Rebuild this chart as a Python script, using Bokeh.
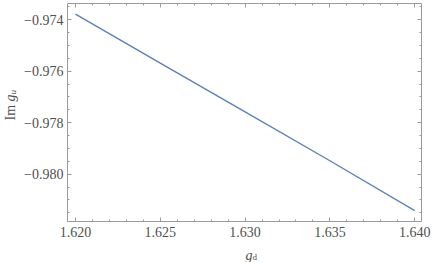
import math
from bokeh.plotting import figure
from bokeh.models import Range1d, LinearAxis, FixedTicker, CustomJSTickFormatter
from bokeh.core.properties import value
from bokeh.embed import file_html
from bokeh.resources import INLINE

# data
gd = [1.620, 1.625, 1.630, 1.635, 1.640]
im_gu = [-0.97378, -0.97569, -0.97758, -0.97948, -0.98142]

x_ticks = [1.620, 1.625, 1.630, 1.635, 1.640]
y_ticks = [-0.980, -0.978, -0.976, -0.974]
x_minor = [round(1.620 + 0.001 * i, 4) for i in range(21)]
y_minor = [round(-0.9815 + 0.0005 * i, 5) for i in range(17)]

x_lo, x_hi = 1.61953, 1.6404
y_lo, y_hi = -0.98184, -0.97337

FONT = "Liberation Serif, Times New Roman, serif"
TXT = "#505050"
FRAME = "#9a9a9a"
LINE = "#5E81B5"

p = figure(width=432, height=262, output_backend="svg", toolbar_location=None,
           x_range=Range1d(x_lo, x_hi), y_range=Range1d(y_lo, y_hi),
           min_border_left=67, min_border_right=11, min_border_top=3, min_border_bottom=41,
           x_axis_location=None, y_axis_location=None)
p.outline_line_color = None
p.xgrid.visible = False
p.ygrid.visible = False
p.background_fill_color = "white"
p.border_fill_color = "white"

fmt = CustomJSTickFormatter(code="""
return (tick < 0 ? "\\u2212" : "") + Math.abs(tick).toFixed(3);
""")

def style(ax, labels):
    ax.axis_line_color = FRAME
    ax.axis_line_width = 1
    ax.major_tick_line_color = FRAME
    ax.minor_tick_line_color = FRAME
    ax.major_tick_in = 4
    ax.major_tick_out = 0
    ax.minor_tick_in = 2
    ax.minor_tick_out = 0
    ax.major_label_text_font = FONT
    if labels:
        ax.major_label_text_color = TXT
        ax.major_label_text_font_size = "14px"
        ax.formatter = fmt
    else:
        ax.major_label_text_color = None
        ax.major_label_text_font_size = "0px"
        ax.major_label_standoff = 0

xt = FixedTicker(ticks=x_ticks, minor_ticks=x_minor)
yt = FixedTicker(ticks=y_ticks, minor_ticks=y_minor)

bottom = LinearAxis(ticker=xt)
style(bottom, True)
bottom.major_label_standoff = 5
left = LinearAxis(ticker=yt)
style(left, True)
left.major_label_standoff = 4
top = LinearAxis(ticker=xt)
style(top, False)
right = LinearAxis(ticker=yt)
style(right, False)

p.add_layout(bottom, "below")
p.add_layout(left, "left")
p.add_layout(top, "above")
p.add_layout(right, "right")

p.line(gd, im_gu, line_color=LINE, line_width=1.4)

x_mid = (x_lo + x_hi) / 2
y_mid = (y_lo + y_hi) / 2

def txt(x, y, s, dx, dy, size, italic=False, angle=0.0):
    p.text(x=[x], y=[y], text=[s], x_offset=dx, y_offset=dy, angle=angle,
           text_font=value(FONT), text_font_size=size,
           text_font_style="italic" if italic else "normal",
           text_color=TXT, text_align="left", text_baseline="alphabetic",
           level="overlay")

# x axis label: g_d  (screen y offset: positive = down for glyphs)
txt(x_mid, y_lo, "g", 1, 34, "14px", italic=True)
txt(x_mid, y_lo, "d", 8, 35, "9px")

# y axis label: Im g_u
txt(x_lo, y_mid, "Im", -57, 8, "14px", angle=math.pi / 2)
txt(x_lo, y_mid, "g", -57, -11, "14px", italic=True, angle=math.pi / 2)
txt(x_lo, y_mid, "u", -55, -18, "9px", italic=True, angle=math.pi / 2)

open("out.html", "w").write(file_html(p, INLINE))
